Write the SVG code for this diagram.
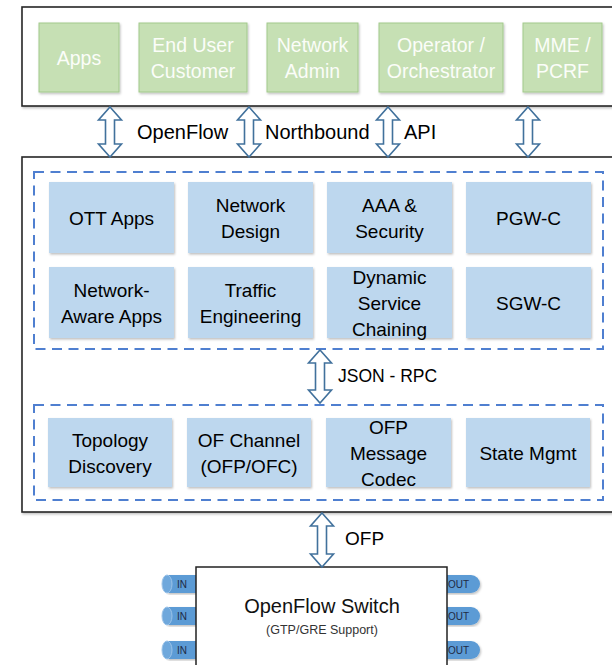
<svg xmlns="http://www.w3.org/2000/svg" width="612" height="665" viewBox="0 0 612 665">
  <defs>
    <filter id="shadow" x="-5%" y="-5%" width="110%" height="115%">
      <feDropShadow dx="1" dy="1.5" stdDeviation="0.8" flood-color="#000" flood-opacity="0.25"/>
    </filter>
    <style>
      text { font-family: "Liberation Sans", Arial, sans-serif; text-anchor: middle; }
      .frame { fill: #fff; stroke: #262626; stroke-width: 1.6; filter: url(#shadow); }
      .dash { fill: none; stroke: #4f7fd0; stroke-width: 2; stroke-dasharray: 10 6.5; }
      .green rect { fill: #c6e0b4; stroke: #a2c98c; stroke-width: 1; filter: url(#shadow); }
      .green text { fill: #fbfdf9; font-size: 19.5px; }
      .blue rect { fill: #bdd7ee; filter: url(#shadow); }
      .blue text { fill: #000; font-size: 19px; }
      .arrow { fill: #fff; stroke: #41719c; stroke-width: 1.6; stroke-linejoin: miter; }
      .label { fill: #000; font-size: 20px; text-anchor: start; }
      .label.small { font-size: 17.5px; }
      .label.ofp { font-size: 19px; }
      .port { fill: #5b9bd5; filter: url(#shadow); }
      .portcap { fill: #6fa8dc; stroke: #9cc3e8; stroke-width: 1; }
      .porttext { fill: #1f2a44; font-size: 10px; text-anchor: start; }
    </style>
  </defs>

  <!-- application layer frame -->
  <rect class="frame" x="22" y="7" width="600" height="99"/>

  <g id="apps" class="green">
    <rect x="39" y="23" width="80" height="69"/>
    <text x="79" y="64.5">Apps</text>
  </g>
  <g id="end-user" class="green">
    <rect x="139" y="23" width="108" height="69"/>
    <text x="193" y="51.5">End User</text>
    <text x="193" y="77.5">Customer</text>
  </g>
  <g id="network-admin" class="green">
    <rect x="267" y="23" width="91" height="69"/>
    <text x="312.5" y="51.5">Network</text>
    <text x="312.5" y="77.5">Admin</text>
  </g>
  <g id="operator" class="green">
    <rect x="379" y="23" width="124" height="69"/>
    <text x="441" y="51.5">Operator /</text>
    <text x="441" y="77.5">Orchestrator</text>
  </g>
  <g id="mme-pcrf" class="green">
    <rect x="523" y="23" width="79" height="69"/>
    <text x="562.5" y="51.5">MME /</text>
    <text x="562.5" y="77.5">PCRF</text>
  </g>

  <!-- controller frame -->
  <rect class="frame" x="22" y="157" width="600" height="355"/>
  <rect class="dash" x="34" y="172" width="569" height="177"/>
  <rect class="dash" x="34" y="405" width="569" height="95"/>

  <g id="ott-apps" class="blue">
    <rect x="49" y="182" width="125" height="71"/>
    <text x="111.5" y="224.5">OTT Apps</text>
  </g>
  <g id="network-design" class="blue">
    <rect x="188" y="182" width="125" height="71"/>
    <text x="250.5" y="211.5">Network</text>
    <text x="250.5" y="237.5">Design</text>
  </g>
  <g id="aaa-security" class="blue">
    <rect x="327" y="182" width="125" height="71"/>
    <text x="389.5" y="211.5">AAA &amp;</text>
    <text x="389.5" y="237.5">Security</text>
  </g>
  <g id="pgw-c" class="blue">
    <rect x="466" y="182" width="125" height="71"/>
    <text x="528.5" y="224.5">PGW-C</text>
  </g>
  <g id="network-aware-apps" class="blue">
    <rect x="49" y="267" width="125" height="71"/>
    <text x="111.5" y="296.5">Network-</text>
    <text x="111.5" y="322.5">Aware Apps</text>
  </g>
  <g id="traffic-engineering" class="blue">
    <rect x="188" y="267" width="125" height="71"/>
    <text x="250.5" y="296.5">Traffic</text>
    <text x="250.5" y="322.5">Engineering</text>
  </g>
  <g id="service-chaining" class="blue">
    <rect x="327" y="267" width="125" height="71"/>
    <text x="389.5" y="283.5">Dynamic</text>
    <text x="389.5" y="309.5">Service</text>
    <text x="389.5" y="335.5">Chaining</text>
  </g>
  <g id="sgw-c" class="blue">
    <rect x="466" y="267" width="125" height="71"/>
    <text x="528.5" y="309.5">SGW-C</text>
  </g>

  <g id="topology-discovery" class="blue">
    <rect x="48" y="418" width="124" height="69"/>
    <text x="110" y="446.5">Topology</text>
    <text x="110" y="472.5">Discovery</text>
  </g>
  <g id="of-channel" class="blue">
    <rect x="187" y="418" width="124" height="69"/>
    <text x="249" y="446.5">OF Channel</text>
    <text x="249" y="472.5">(OFP/OFC)</text>
  </g>
  <g id="ofp-codec" class="blue">
    <rect x="326" y="418" width="125" height="69"/>
    <text x="388.5" y="433.5">OFP</text>
    <text x="388.5" y="459.5">Message</text>
    <text x="388.5" y="485.5">Codec</text>
  </g>
  <g id="state-mgmt" class="blue">
    <rect x="466" y="418" width="124" height="69"/>
    <text x="528" y="459.5">State Mgmt</text>
  </g>

  <!-- switch ports sit behind the switch body -->
  <g id="ports">
    <rect class="port" x="167" y="575" width="40" height="18"/>
    <ellipse class="portcap" cx="167" cy="584" rx="5" ry="9"/>
    <text class="porttext" x="177" y="587.5">IN</text>
    <rect class="port" x="167" y="607" width="40" height="18"/>
    <ellipse class="portcap" cx="167" cy="616" rx="5" ry="9"/>
    <text class="porttext" x="177" y="619.5">IN</text>
    <rect class="port" x="167" y="641" width="40" height="18"/>
    <ellipse class="portcap" cx="167" cy="650" rx="5" ry="9"/>
    <text class="porttext" x="177" y="653.5">IN</text>

    <path class="port" d="M436 575 H471 A9 9 0 0 1 471 593 H436 Z"/>
    <path class="port" d="M436 607 H471 A9 9 0 0 1 471 625 H436 Z"/>
    <path class="port" d="M436 641 H471 A9 9 0 0 1 471 659 H436 Z"/>
  </g>

  <g id="openflow-switch">
    <rect x="196" y="567" width="251" height="110" fill="#fff" stroke="#222" stroke-width="1.5"/>
    <text x="322" y="613" style="font-size:20px;fill:#111">OpenFlow Switch</text>
    <text x="322" y="634" style="font-size:12.5px;fill:#333">(GTP/GRE Support)</text>
  </g>

  <g id="port-labels">
    <text class="porttext" x="448" y="587.5">OUT</text>
    <text class="porttext" x="448" y="619.5">OUT</text>
    <text class="porttext" x="448" y="653.5">OUT</text>
  </g>

  <!-- double-headed interface arrows -->
  <g id="connectors">
    <path class="arrow" d="M110 107 L121.5 120 L114.5 120 L114.5 144 L121.5 144 L110 157 L98.5 144 L105.5 144 L105.5 120 L98.5 120 Z"/>
    <path class="arrow" d="M249 107 L260.5 120 L253.5 120 L253.5 144 L260.5 144 L249 157 L237.5 144 L244.5 144 L244.5 120 L237.5 120 Z"/>
    <path class="arrow" d="M388 107 L399.5 120 L392.5 120 L392.5 144 L399.5 144 L388 157 L376.5 144 L383.5 144 L383.5 120 L376.5 120 Z"/>
    <path class="arrow" d="M528 107 L539.5 120 L532.5 120 L532.5 144 L539.5 144 L528 157 L516.5 144 L523.5 144 L523.5 120 L516.5 120 Z"/>
    <path class="arrow" d="M320 350 L331.5 363 L324.5 363 L324.5 390 L331.5 390 L320 403 L308.5 390 L315.5 390 L315.5 363 L308.5 363 Z"/>
    <path class="arrow" d="M322 513 L333.5 526 L326.5 526 L326.5 554 L333.5 554 L322 567 L310.5 554 L317.5 554 L317.5 526 L310.5 526 Z"/>
  </g>

  <g id="interface-labels">
    <text class="label" x="137" y="138.5">OpenFlow</text>
    <text class="label" x="265" y="138.5">Northbound</text>
    <text class="label" x="404" y="138.5">API</text>
    <text class="label small" x="338" y="382">JSON - RPC</text>
    <text class="label ofp" x="345" y="545">OFP</text>
  </g>
</svg>
